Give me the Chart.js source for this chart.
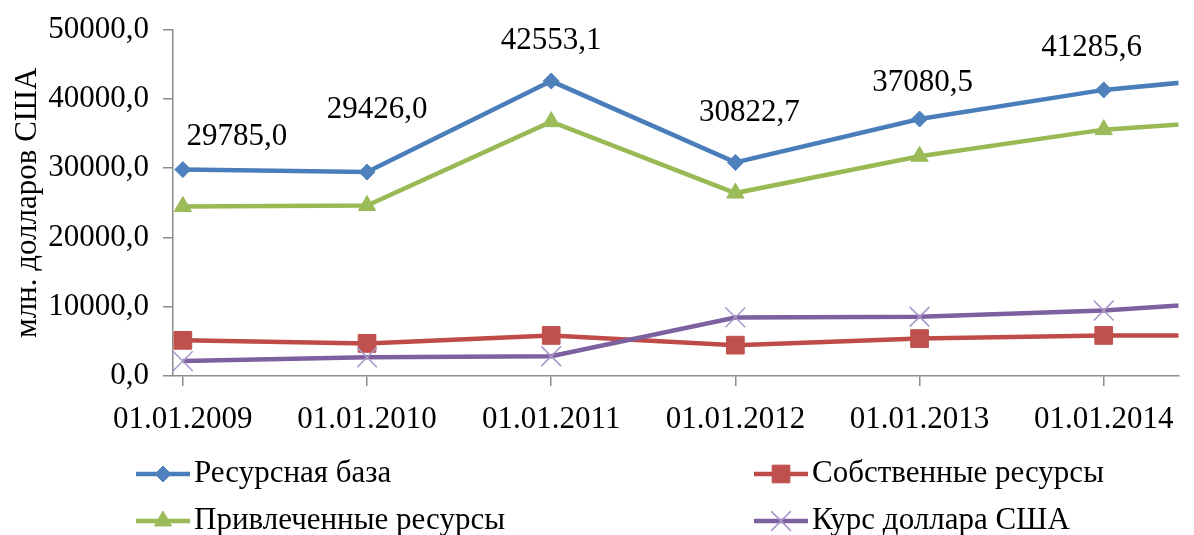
<!DOCTYPE html>
<html>
<head>
<meta charset="utf-8">
<script src="https://cdn.jsdelivr.net/npm/chart.js@4/dist/chart.umd.min.js"></script>
<style>
html, body { margin: 0; padding: 0; background: #fff; overflow: hidden; }
#wrap { position: relative; width: 1194px; height: 535px; }
</style>
</head>
<body>
<div id="wrap"><canvas id="resursy"></canvas></div>
<script>
/*
 * Data (mln USD)
 * the 7th value is the next year, only its start is visible at the right edge
 */
var dates = ['01.01.2009', '01.01.2010', '01.01.2011', '01.01.2012', '01.01.2013', '01.01.2014']
var resursnayaBaza = [29785.0, 29426.0, 42553.1, 30822.7, 37080.5, 41285.6, 43760]
var sobstvennye = [5150, 4700, 5850, 4450, 5400, 5850, 5860]
var privlechennye = [24450, 24600, 36700, 26400, 31700, 35550, 37370]
var kursDollara = [2150, 2700, 2850, 8450, 8550, 9450, 11180]
var yTicks = [0, 10000, 20000, 30000, 40000, 50000]

var serif = "'Liberation Serif', 'Times New Roman', serif"

function points(values) {
    return values.map(function (v, i) { return { x: i, y: v } })
}

function comma(v) {
    return v.toFixed(1).replace('.', ',')
}

/*
 * value labels above the "Ресурсная база" line
 */
var baseLabels = {
    id: 'baseLabels',
    afterDatasetsDraw: function (chart, args, opts) {
        var meta = chart.getDatasetMeta(0)
        var ctx = chart.ctx
        ctx.save()
        ctx.font = '31px ' + serif
        ctx.fillStyle = '#000'
        ctx.textAlign = 'center'
        ctx.textBaseline = 'middle'
        dates.forEach(function (d, i) {
            var pt = meta.data[i]
            var shift = opts.shift[i]
            ctx.fillText(comma(resursnayaBaza[i]), pt.x + shift[0], pt.y + shift[1])
        })
        ctx.restore()
    }
}

/*
 * two column legend under the axis
 */
var gridLegend = {
    id: 'gridLegend',
    afterDraw: function (chart, args, opts) {
        var ctx = chart.ctx
        ctx.save()
        chart.data.datasets.forEach(function (ds, i) {
            var x = opts.columns[i % 2]
            var y = opts.rows[Math.floor(i / 2)]
            ctx.strokeStyle = ds.borderColor
            ctx.lineWidth = ds.borderWidth
            ctx.beginPath()
            ctx.moveTo(x, y)
            ctx.lineTo(x + opts.symbolWidth, y)
            ctx.stroke()
            ctx.fillStyle = ds.pointBackgroundColor
            ctx.strokeStyle = ds.pointBorderColor
            ctx.lineWidth = ds.pointBorderWidth
            Chart.helpers.drawPoint(ctx, {
                pointStyle: ds.pointStyle,
                radius: ds.pointRadius,
                borderWidth: ds.pointBorderWidth,
                rotation: 0
            }, x + opts.symbolWidth / 2, y)
            ctx.fillStyle = '#000'
            ctx.font = '31px ' + serif
            ctx.textAlign = 'left'
            ctx.textBaseline = 'middle'
            ctx.fillText(ds.label, x + opts.symbolWidth + 4, y)
        })
        ctx.restore()
    }
}

var resursyConfig = {
    type: 'line',
    data: {
        datasets: [{
            label: 'Ресурсная база',
            data: points(resursnayaBaza),
            borderColor: '#4A7EBB',
            borderWidth: 4.5,
            pointStyle: 'rectRot',
            pointRadius: 8,
            pointBackgroundColor: '#4F81BD',
            pointBorderColor: '#4F81BD',
            pointBorderWidth: 1,
            order: 4
        }, {
            label: 'Собственные ресурсы',
            data: points(sobstvennye),
            borderColor: '#BE4B48',
            borderWidth: 4.5,
            pointStyle: 'rect',
            pointRadius: 12.5,
            pointBackgroundColor: '#C0504D',
            pointBorderColor: '#C0504D',
            pointBorderWidth: 1,
            order: 3
        }, {
            label: 'Привлеченные ресурсы',
            data: points(privlechennye),
            borderColor: '#98B954',
            borderWidth: 4.5,
            pointStyle: 'triangle',
            pointRadius: 10,
            pointBackgroundColor: '#9BBB59',
            pointBorderColor: '#9BBB59',
            pointBorderWidth: 1,
            order: 2
        }, {
            label: 'Курс доллара США',
            data: points(kursDollara),
            borderColor: '#7D60A0',
            borderWidth: 4.5,
            pointStyle: 'crossRot',
            pointRadius: 14,
            pointBackgroundColor: '#A898C8',
            pointBorderColor: '#A898C8',
            pointBorderWidth: 1.5,
            order: 1
        }]
    },
    options: {
        responsive: false,
        animation: false,
        layout: { padding: { top: 26, right: 0, bottom: 89, left: 0 } },
        elements: { line: { tension: 0 } },
        scales: {
            x: {
                type: 'linear',
                min: -0.0535,
                max: 5.406,
                afterBuildTicks: function (scale) {
                    scale.ticks = dates.map(function (d, i) { return { value: i } })
                },
                afterFit: function (scale) { scale.height = 70 },
                border: { display: true, color: '#8C8C8C', width: 1.5 },
                grid: { drawOnChartArea: false, drawTicks: true, tickLength: 10, color: '#8C8C8C', lineWidth: 1.5 },
                ticks: {
                    autoSkip: false,
                    maxRotation: 0,
                    padding: 18,
                    color: '#000',
                    font: { family: serif, size: 31, lineHeight: 1 },
                    callback: function (v) { return dates[v] }
                }
            },
            y: {
                min: 0,
                max: 50000,
                afterBuildTicks: function (scale) {
                    scale.ticks = yTicks.map(function (v) { return { value: v } })
                },
                afterFit: function (scale) { scale.width = 173 },
                border: { display: true, color: '#8C8C8C', width: 1.5 },
                grid: { drawOnChartArea: false, drawTicks: true, tickLength: 10, color: '#8C8C8C', lineWidth: 1.5 },
                ticks: {
                    padding: 14,
                    color: '#000',
                    font: { family: serif, size: 31, lineHeight: 1 },
                    callback: function (v) { return comma(v) }
                },
                title: {
                    display: true,
                    text: 'млн. долларов США',
                    color: '#000',
                    padding: { top: 9, bottom: 0 },
                    font: { family: serif, size: 31, lineHeight: 1.2 }
                }
            }
        },
        plugins: {
            legend: { display: false },
            tooltip: { enabled: false },
            baseLabels: { shift: [[54, -33], [10, -62], [0, -40], [14, -50], [3, -36], [-12, -42]] },
            gridLegend: { columns: [136, 754], rows: [474, 521], symbolWidth: 54 }
        }
    },
    plugins: [baseLabels, gridLegend]
}

var resursyCanvas = document.getElementById('resursy')
resursyCanvas.width = 1194
resursyCanvas.height = 535

var resursyChart = new Chart(resursyCanvas, resursyConfig)
</script>
</body>
</html>
